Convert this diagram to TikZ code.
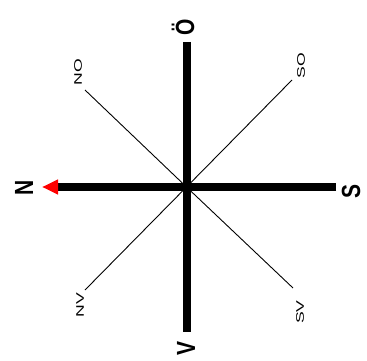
\documentclass[tikz,border=0pt]{standalone}
\usepackage{fontspec}
\setmainfont{Liberation Sans}
\usetikzlibrary{arrows.meta}

\begin{document}
\begin{tikzpicture}[x=1pt, y=-1pt,
    truc/.style={line width=8pt},
    phu/.style={line width=0.9pt},
    chinh/.style={rotate=90, yscale=1.25, inner sep=0pt, font=\bfseries\fontsize{21}{21}\selectfont},
    nho/.style={rotate=90, xscale=1.6, inner sep=0pt, font=\fontsize{11}{11}\selectfont}]
    \useasboundingbox (0,0) rectangle (367,361);
    % Tâm và các đầu mút
    \coordinate (C) at (186.5,187);
    \coordinate (tren) at (186.5,42);
    \coordinate (duoi) at (186.5,332);
    \coordinate (trai) at (42,187);
    \coordinate (phai) at (336,187);
    \coordinate (NO) at (85,90);
    \coordinate (SO) at (292,80);
    \coordinate (NV) at (85,290);
    \coordinate (SV) at (293,288);

    % Các trục chính
    \draw[truc] (tren) -- (duoi);
    \draw[truc, -{Triangle[length=16pt, width=14pt, red]}] (phai) -- (trai);

    % Các hướng phụ
    \foreach \h in {NO,SO,NV,SV} {
        \draw[phu] (C) -- (\h);
    }

    % Nhãn
    \node[chinh] (lN) at (24,188) {N};
    \node[chinh] (lO) at (183,27) {Ö};
    \node[chinh] (lV) at (186,348) {V};
    \node[chinh] (lS) at (351,191) {S};
    \node[nho] (lNO) at (78,72) {NO};
    \node[nho] (lSO) at (301,66) {SO};
    \node[nho] (lNV) at (80,305) {NV};
    \node[nho] (lSV) at (300,312) {SV};
\end{tikzpicture}
\end{document}
